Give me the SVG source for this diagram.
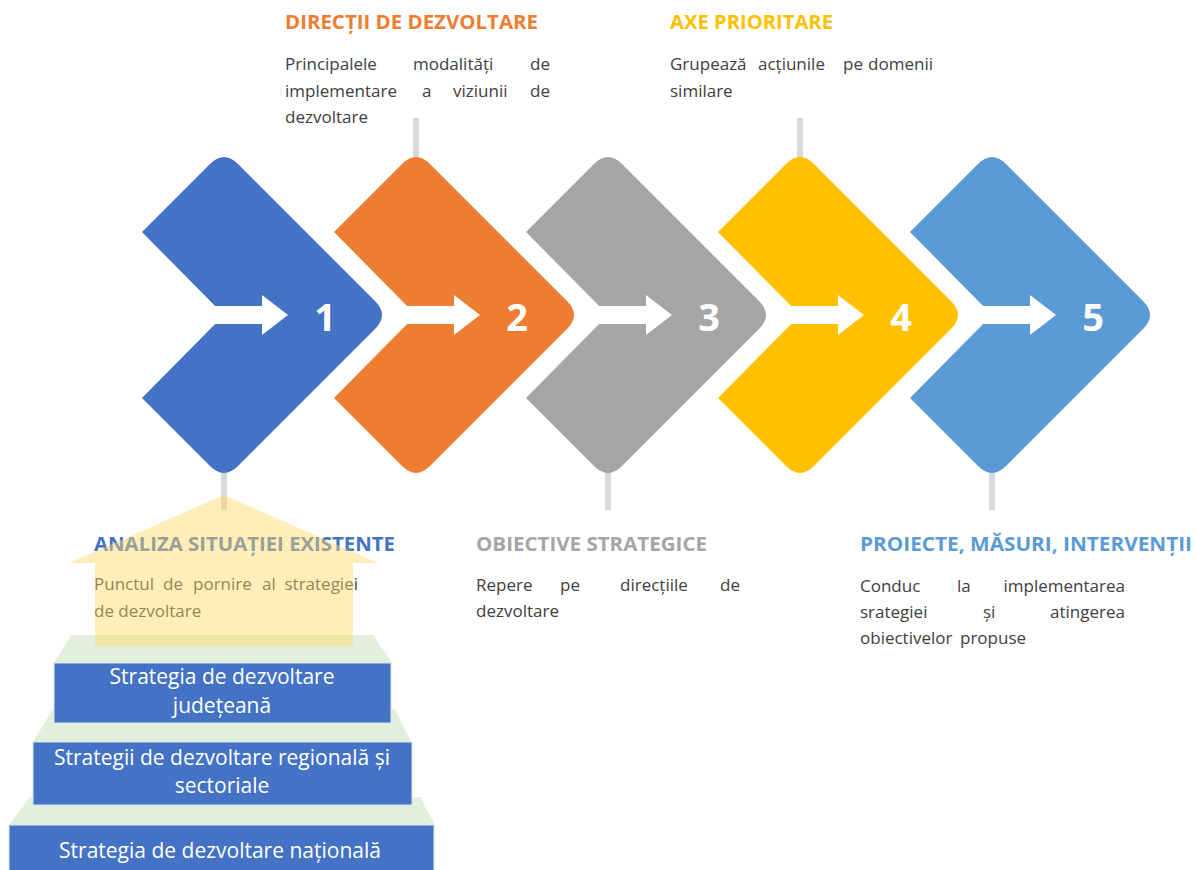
<svg xmlns="http://www.w3.org/2000/svg" width="1195" height="870" viewBox="0 0 1195 870">
<style>
.t{font-family:"Open Sans","Noto Sans","Liberation Sans",sans-serif;font-weight:700;font-size:20px}
.b{font-family:"Open Sans","Noto Sans","Liberation Sans",sans-serif;font-size:17px;fill:#404040}
.n{font-family:"Open Sans","Noto Sans","Liberation Sans",sans-serif;font-weight:700;font-size:38px;fill:#fff;text-anchor:middle}
.p{font-family:"Open Sans","Noto Sans","Liberation Sans",sans-serif;font-size:21px;fill:#fff;text-anchor:middle}
.e{text-anchor:end}
.conn{stroke:#D9D9D9;stroke-width:6;fill:none}
.green{fill:#E2EFDA}
.rect{fill:#4472C4;stroke:#DAE3F3;stroke-width:1}
</style>
<defs>
<path id="chev" d="M-14,164 Q0,150 14,164 L151,301 Q165,315 151,329 L14,466 Q0,480 -14,466 L-82,398 L0,315 L-82,232 Z"/>
<path id="arr" d="M-12,306 L38,306 L38,295 L64,315 L38,335 L38,324 L-12,324 Z" fill="#fff"/>
</defs>
<rect width="1195" height="870" fill="#fff"/>

<g id="connectors">
<line class="conn" x1="416" y1="118" x2="416" y2="170"/>
<line class="conn" x1="800" y1="118" x2="800" y2="170"/>
<line class="conn" x1="224" y1="460" x2="224" y2="510"/>
<line class="conn" x1="608" y1="460" x2="608" y2="510"/>
<line class="conn" x1="992" y1="460" x2="992" y2="510"/>
</g>

<g id="step1" transform="translate(224,0)">
<use href="#chev" fill="#4472C4"/><use href="#arr"/>
<text class="n" x="101" y="331">1</text>
</g>
<g id="step2" transform="translate(416,0)">
<use href="#chev" fill="#ED7D31"/><use href="#arr"/>
<text class="n" x="101" y="331">2</text>
</g>
<g id="step3" transform="translate(608,0)">
<use href="#chev" fill="#A5A5A5"/><use href="#arr"/>
<text class="n" x="101" y="331">3</text>
</g>
<g id="step4" transform="translate(800,0)">
<use href="#chev" fill="#FFC000"/><use href="#arr"/>
<text class="n" x="101" y="331">4</text>
</g>
<g id="step5" transform="translate(992,0)">
<use href="#chev" fill="#5B9BD5"/><use href="#arr"/>
<text class="n" x="101" y="331">5</text>
</g>

<g id="label-directii">
<text class="t" x="285" y="29" fill="#ED7D31" textLength="253" lengthAdjust="spacingAndGlyphs">DIRECȚII DE DEZVOLTARE</text>
<text class="b" y="70"><tspan x="285">Principalele</tspan><tspan x="413">modalități</tspan></text>
<text class="b e" x="550" y="70">de</text>
<text class="b" y="96.5"><tspan x="285">implementare</tspan><tspan x="422">a</tspan><tspan x="453">viziunii</tspan></text>
<text class="b e" x="550" y="96.5">de</text>
<text class="b" x="285" y="123">dezvoltare</text>
</g>

<g id="label-axe">
<text class="t" x="670" y="29" fill="#FFC000" textLength="163" lengthAdjust="spacingAndGlyphs">AXE PRIORITARE</text>
<text class="b" y="70"><tspan x="670">Grupează</tspan><tspan x="758">acțiunile</tspan><tspan x="843">pe</tspan></text>
<text class="b e" x="933" y="70">domenii</text>
<text class="b" x="670" y="96.5">similare</text>
</g>

<g id="label-obiective">
<text class="t" x="476" y="551" fill="#A5A5A5" textLength="231" lengthAdjust="spacingAndGlyphs">OBIECTIVE STRATEGICE</text>
<text class="b" y="590.5"><tspan x="476">Repere</tspan><tspan x="560">pe</tspan><tspan x="620">direcțiile</tspan></text>
<text class="b e" x="740" y="590.5">de</text>
<text class="b" x="476" y="617">dezvoltare</text>
</g>

<g id="label-proiecte">
<text class="t" x="860" y="551" fill="#5B9BD5" textLength="332" lengthAdjust="spacingAndGlyphs">PROIECTE, MĂSURI, INTERVENȚII</text>
<text class="b" y="591.5"><tspan x="860">Conduc</tspan><tspan x="957">la</tspan></text>
<text class="b e" x="1125" y="591.5">implementarea</text>
<text class="b" y="617.5"><tspan x="860">srategiei</tspan><tspan x="983">și</tspan></text>
<text class="b e" x="1125" y="617.5">atingerea</text>
<text class="b" y="643.5"><tspan x="860">obiectivelor</tspan><tspan x="960">propuse</tspan></text>
</g>

<g id="pyramid">
<polygon class="green" points="30,797 420,797 435,825 9,825"/>
<rect class="rect" x="9" y="825" width="425" height="50"/>
<text class="p" x="220" y="858">Strategia de dezvoltare națională</text>
<polygon class="green" points="53,709 395,709 411,742 33,742"/>
<rect class="rect" x="33" y="742" width="379" height="63"/>
<text class="p" x="222" y="765">Strategii de dezvoltare regională și</text>
<text class="p" x="222" y="793">sectoriale</text>
<polygon class="green" points="71,635 373,635 392,663 54,663"/>
<rect class="rect" x="54" y="663" width="337" height="60"/>
<text class="p" x="222" y="684">Strategia de dezvoltare</text>
<text class="p" x="222" y="713">județeană</text>
</g>

<g id="label-analiza">
<text class="t" x="94" y="551" fill="#4472C4" textLength="301" lengthAdjust="spacingAndGlyphs">ANALIZA SITUAȚIEI EXISTENTE</text>
<text class="b" y="590"><tspan x="94">Punctul</tspan><tspan x="163">de</tspan><tspan x="193">pornire</tspan><tspan x="262">al</tspan></text>
<text class="b e" x="358" y="590">strategiei</text>
<text class="b" x="94" y="617">de dezvoltare</text>
</g>

<g id="house">
<polygon points="69,563 224,495 378,563 353,563 353,646 95,646 95,563" fill="#FFD966" fill-opacity="0.45"/>
</g>
</svg>
